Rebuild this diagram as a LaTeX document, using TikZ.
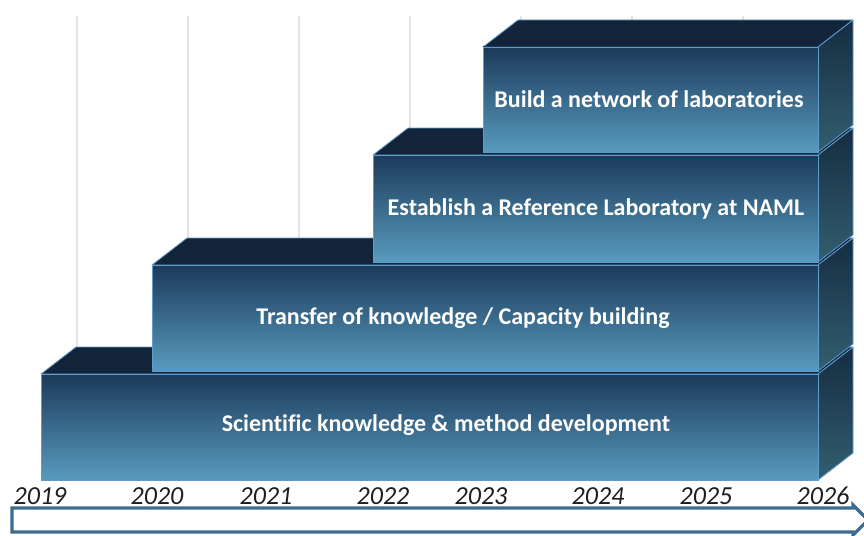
\documentclass[tikz,border=0pt]{standalone}
\usepackage{fontspec}
\setmainfont{Carlito}[Ligatures=NoCommon]
\definecolor{frontTop}{RGB}{28,58,90}
\definecolor{frontBot}{RGB}{88,155,190}
\definecolor{sideTop}{RGB}{22,44,64}
\definecolor{sideBot}{RGB}{50,95,112}
\definecolor{topFace}{RGB}{18,36,58}
\definecolor{edgeBlue}{RGB}{95,155,205}
\definecolor{gridGray}{RGB}{228,228,228}
\definecolor{arrowBlue}{RGB}{62,108,140}
\definecolor{yearText}{RGB}{30,30,30}
\newcommand\stepblock[3]{%
  \filldraw[topside] (#1,#2) -- (#1+35,#2-27) -- (853,#2-27) -- (818,#2) -- cycle;
  \shade[rightside] (818,#2) -- (853,#2-27) -- (853,#3-27) -- (818,#3) -- cycle;
  \shade[frontside] (#1,#2) rectangle (818,#3);
}
\begin{document}
\begin{tikzpicture}[x=1pt,y=-1pt,
  topside/.style={fill=topFace,draw=edgeBlue,line width=0.8pt,line join=round},
  rightside/.style={top color=sideTop,bottom color=sideBot,draw=edgeBlue,line width=0.8pt,line join=round},
  frontside/.style={top color=frontTop,bottom color=frontBot,draw=edgeBlue,line width=0.8pt},
  gridline/.style={draw=gridGray,line width=1.6pt},
  blocklabel/.style={text=white,font=\bfseries\fontsize{24}{27}\selectfont,inner sep=0pt},
  yearlabel/.style={text=yearText,font=\itshape\fontsize{26}{28}\selectfont,inner sep=0pt},
  timearrow/.style={draw=arrowBlue,fill=white,line width=3.2pt,line join=miter}]
\useasboundingbox (0,0) rectangle (864,535);
% background grid
\foreach \gx in {77,188,299,410,521,632,743}
  \draw[gridline] (\gx,16) -- (\gx,480);
% blocks, bottom to top
\stepblock{41}{374}{480}
\stepblock{152}{265}{371}
\stepblock{373}{155}{262}
\stepblock{483}{47}{152}
% labels
\node[blocklabel] (b1) at (446,425) {Scientific knowledge \& method development};
\node[blocklabel] (b2) at (463,318) {Transfer of knowledge / Capacity building};
\node[blocklabel] (b3) at (596,209) {Establish a Reference Laboratory at NAML};
\node[blocklabel] (b4) at (649,99) {Build a network of laboratories};
% years
\node[yearlabel] (y2019) at (40,496) {2019};
\node[yearlabel] (y2020) at (157,496) {2020};
\node[yearlabel] (y2021) at (266,496) {2021};
\node[yearlabel] (y2022) at (383,496) {2022};
\node[yearlabel] (y2023) at (481,496) {2023};
\node[yearlabel] (y2024) at (598,496) {2024};
\node[yearlabel] (y2025) at (706,496) {2025};
\node[yearlabel] (y2026) at (823,496) {2026};
% time arrow
\draw[timearrow] (12,508) -- (853,508) -- (853,505) -- (868,520) -- (853,535) -- (853,532) -- (12,532) -- cycle;
\end{tikzpicture}
\end{document}
